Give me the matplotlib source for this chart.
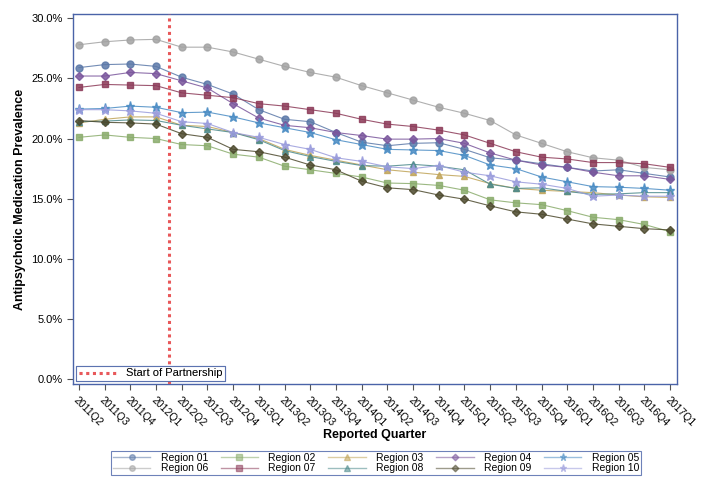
import matplotlib
matplotlib.use("Agg")
import matplotlib.pyplot as plt
from matplotlib.ticker import FuncFormatter
from matplotlib.lines import Line2D

plt.rcParams['font.family'] = ['Liberation Sans', 'DejaVu Sans']

quarters = ['2011Q2', '2011Q3', '2011Q4', '2012Q1', '2012Q2', '2012Q3', '2012Q4',
            '2013Q1', '2013Q2', '2013Q3', '2013Q4', '2014Q1', '2014Q2', '2014Q3',
            '2014Q4', '2015Q1', '2015Q2', '2015Q3', '2015Q4', '2016Q1', '2016Q2',
            '2016Q3', '2016Q4', '2017Q1']

region_01 = [25.9, 26.15, 26.2, 26.0, 25.1, 24.5, 23.7, 22.4, 21.6, 21.4, 20.5, 19.7,
             19.4, 19.6, 19.65, 19.1, 18.4, 18.2, 17.9, 17.6, 17.3, 17.4, 17.1, 16.8]
region_02 = [20.1, 20.3, 20.1, 20.0, 19.5, 19.4, 18.7, 18.45, 17.7, 17.4, 17.1, 16.8,
             16.3, 16.25, 16.1, 15.7, 14.9, 14.65, 14.5, 14.0, 13.45, 13.25, 12.85, 12.25]
region_03 = [21.3, 21.6, 21.8, 21.8, 21.1, 21.0, 20.5, 20.0, 19.1, 18.6, 18.2, 17.8,
             17.4, 17.2, 17.0, 16.85, 16.25, 15.85, 15.7, 15.6, 15.5, 15.3, 15.15, 15.1]
region_04 = [25.2, 25.2, 25.5, 25.4, 24.8, 24.2, 22.9, 21.7, 21.1, 20.9, 20.5, 20.25,
             19.95, 19.95, 20.0, 19.6, 18.8, 18.2, 17.8, 17.6, 17.2, 16.9, 16.9, 16.6]
region_05 = [22.45, 22.5, 22.7, 22.6, 22.15, 22.2, 21.8, 21.3, 20.9, 20.5, 19.9, 19.5,
             19.1, 19.05, 19.0, 18.6, 17.8, 17.5, 16.8, 16.4, 16.0, 15.95, 15.85, 15.7]
region_06 = [27.8, 28.05, 28.2, 28.25, 27.6, 27.6, 27.2, 26.6, 26.0, 25.5, 25.1, 24.4,
             23.8, 23.2, 22.6, 22.1, 21.5, 20.3, 19.6, 18.9, 18.4, 18.2, 17.6, 17.4]
region_07 = [24.25, 24.5, 24.45, 24.4, 23.8, 23.6, 23.4, 22.9, 22.7, 22.4, 22.1, 21.6,
             21.2, 21.0, 20.7, 20.3, 19.6, 18.9, 18.45, 18.3, 18.0, 18.0, 17.9, 17.6]
region_08 = [21.4, 21.45, 21.55, 21.5, 21.1, 20.8, 20.5, 19.9, 19.0, 18.5, 18.1, 17.75,
             17.7, 17.85, 17.7, 17.4, 16.2, 15.85, 15.9, 15.6, 15.35, 15.4, 15.5, 15.5]
region_09 = [21.5, 21.35, 21.3, 21.2, 20.4, 20.1, 19.1, 18.9, 18.45, 17.8, 17.4, 16.45,
             15.9, 15.75, 15.3, 14.95, 14.4, 13.9, 13.7, 13.3, 12.9, 12.7, 12.5, 12.4]
region_10 = [22.4, 22.4, 22.3, 22.1, 21.4, 21.25, 20.5, 20.1, 19.5, 19.1, 18.4, 18.1,
             17.65, 17.5, 17.75, 17.2, 16.9, 16.4, 16.2, 15.85, 15.2, 15.3, 15.2, 15.2]

series = [
    ('Region 01', region_01, '#5b78a8', 'o'),
    ('Region 02', region_02, '#8aac6c', 's'),
    ('Region 03', region_03, '#c0a458', '^'),
    ('Region 04', region_04, '#7a569c', 'D'),
    ('Region 05', region_05, '#4a8cc4', '*'),
    ('Region 06', region_06, '#a2a2a2', 'o'),
    ('Region 07', region_07, '#8c3a58', 's'),
    ('Region 08', region_08, '#4c8a8c', '^'),
    ('Region 09', region_09, '#4d4a2e', 'D'),
    ('Region 10', region_10, '#9a9cdc', '*'),
]
start_idx = 3.5

fig = plt.figure(figsize=(7.05, 4.87), dpi=100)
ax = fig.add_axes([73/705, 1-384/487, (677-73)/705, (384-14)/487])

x = list(range(len(quarters)))
handles = []
for name, vals, col, mk in series:
    ms = 6.5 if mk == '*' else (4.2 if mk == 'D' else 5)
    ax.plot(x, vals, color=col, lw=0.8, alpha=0.85, marker=mk, ms=ms,
            mfc=col, mec=col, zorder=3)
    handles.append(Line2D([0], [0], color=col, lw=1, alpha=0.55, marker=mk, ms=ms*0.8,
                          mfc=col, mec=col, label=name))

# legend fills column-wise, reference reads row-wise
order = [0, 5, 1, 6, 2, 7, 3, 8, 4, 9]
handles = [handles[i] for i in order]

ax.axvline(start_idx, color='#e8585a', lw=2.2, ls=(0, (1, 1.2)), zorder=4)

ax.set_xlim(-0.23, 23.27)
ax.set_ylim(-0.42, 30.36)
ax.set_yticks([0, 5, 10, 15, 20, 25, 30])
ax.yaxis.set_major_formatter(FuncFormatter(lambda v, p: '%.1f%%' % v))
ax.set_xticks(x)
ax.set_xticklabels(quarters, rotation=-45, ha='left', va='top', rotation_mode='anchor')
ax.tick_params(axis='both', labelsize=8, color='#555555', length=4)
ax.tick_params(axis='x', pad=4, labelsize=7.5)
for sp in ax.spines.values():
    sp.set_color('#4a63a8')
    sp.set_linewidth(1)

ax.set_ylabel('Antipsychotic Medication Prevalence', fontsize=9, fontweight='bold', labelpad=4)
fig.text(375/705, 1-435/487, 'Reported Quarter', fontsize=9, fontweight='bold',
         ha='center', va='center')

inner = ax.legend([Line2D([0], [0], color='#e8585a', lw=2.2, ls=(0, (1, 1.2)))],
                  ['Start of Partnership'], loc='lower left', fontsize=8,
                  frameon=True, fancybox=False, borderpad=0.2, handlelength=3.5,
                  borderaxespad=0.3)
inner.get_frame().set_edgecolor('#4a63a8')
inner.get_frame().set_linewidth(0.8)
ax.add_artist(inner)

leg = fig.legend(handles=handles, loc='center', bbox_to_anchor=(376/705, 1-463/487),
                 ncol=5, fontsize=7.5, frameon=True, fancybox=False, handlelength=3.6,
                 columnspacing=1.2, labelspacing=0.05, borderpad=0.2, handletextpad=1.0)
leg.get_frame().set_edgecolor('#4a63a8')
leg.get_frame().set_linewidth(0.8)

fig.savefig('out.png', dpi=100)
